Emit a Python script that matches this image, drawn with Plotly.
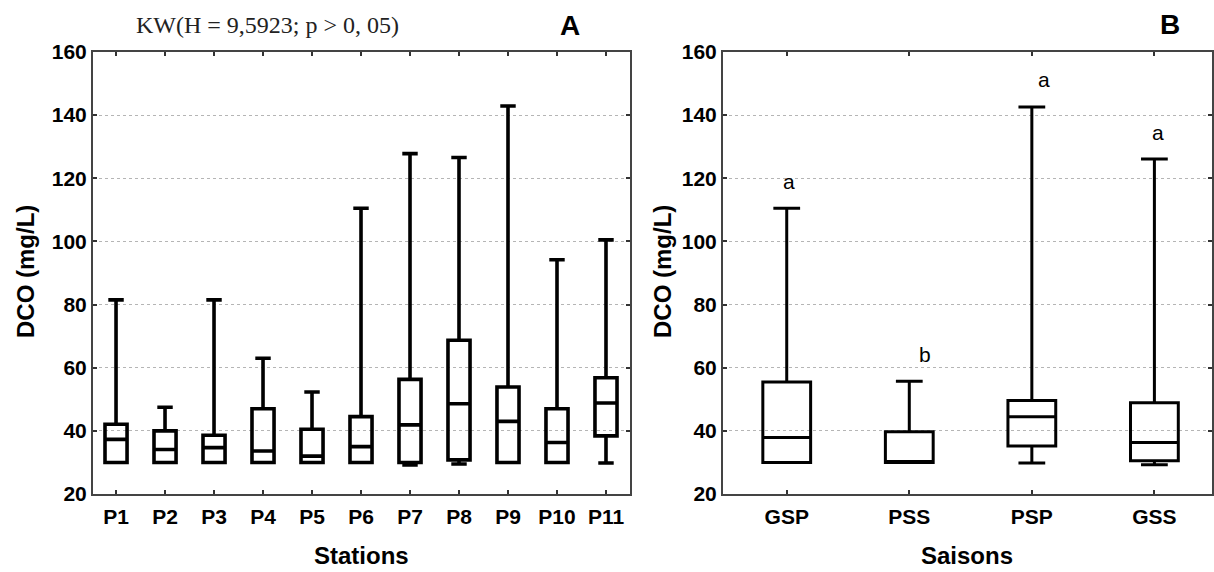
import plotly.graph_objects as go

# ---------------- data ----------------
stations = ["P1", "P2", "P3", "P4", "P5", "P6", "P7", "P8", "P9", "P10", "P11"]
st_lower = [30, 30, 30, 30, 30, 30, 29.2, 29.5, 30, 30, 29.8]
st_q1 = [30, 30, 30, 30, 30, 30, 30, 30.8, 30, 30, 38.4]
st_median = [37.3, 34.1, 34.7, 33.6, 32.0, 35.0, 41.9, 48.6, 43.0, 36.3, 48.8]
st_q3 = [42.1, 40.0, 38.6, 47.0, 40.5, 44.5, 56.3, 68.7, 53.9, 47.0, 56.8]
st_upper = [81.5, 47.5, 81.5, 63.0, 52.3, 110.5, 127.8, 126.6, 142.9, 94.2, 100.5]

seasons = ["GSP", "PSS", "PSP", "GSS"]
se_lower = [30, 30, 29.8, 29.3]
se_q1 = [30, 30, 35.2, 30.5]
se_median = [37.9, 30, 44.5, 36.3]
se_q3 = [55.5, 39.7, 49.6, 48.9]
se_upper = [110.5, 55.7, 142.6, 126.1]
se_letters = ["a", "b", "a", "a"]

y_ticks = [20, 40, 60, 80, 100, 120, 140, 160]

# ---------------- layout helpers ----------------
W, H = 1214, 572


def fx(p):
    return p / W


def fy(p):
    return 1 - p / H


SANS = "Liberation Sans, Arial, sans-serif"
SERIF = "Liberation Serif, Times New Roman, serif"

fig = go.Figure()

fig.add_trace(go.Box(
    x=stations, q1=st_q1, median=st_median, q3=st_q3,
    lowerfence=st_lower, upperfence=st_upper,
    xaxis="x", yaxis="y", width=0.45, whiskerwidth=0.7,
    line=dict(color="black", width=3.6), fillcolor="rgba(0,0,0,0)",
    boxpoints=False, showlegend=False,
))
fig.add_trace(go.Box(
    x=seasons, q1=se_q1, median=se_median, q3=se_q3,
    lowerfence=se_lower, upperfence=se_upper,
    xaxis="x2", yaxis="y2", width=0.39, whiskerwidth=0.56,
    line=dict(color="black", width=3), fillcolor="rgba(0,0,0,0)",
    boxpoints=False, showlegend=False,
))

tickfont = dict(family=SANS, size=21, color="black", weight="bold")
xcommon = dict(
    type="category", showline=True, linecolor="#444", linewidth=2, mirror="ticks",
    ticks="inside", ticklen=4, tickwidth=1.5, tickcolor="#333", showgrid=False,
    tickfont=tickfont, zeroline=False, fixedrange=True, automargin=False,
    ticklabelstandoff=3,
)
ycommon = dict(
    range=[20, 160], tickvals=y_ticks, showline=True, linecolor="#444", linewidth=2,
    mirror="ticks", ticks="inside", ticklen=4, tickwidth=1.5, tickcolor="#333",
    showgrid=True, gridcolor="#b5b5b5", griddash="dot", gridwidth=1,
    tickfont=tickfont, zeroline=False, fixedrange=True, automargin=False,
)

ydom = [fy(494), fy(52)]
fig.update_layout(
    template="none",
    width=W, height=H, autosize=False,
    margin=dict(l=0, r=0, t=0, b=0, pad=0, autoexpand=False),
    paper_bgcolor="white", plot_bgcolor="white",
    showlegend=False,
    xaxis=dict(domain=[fx(93), fx(630)], anchor="y", range=[-0.47, 10.49], **xcommon),
    yaxis=dict(domain=ydom, anchor="x", **ycommon),
    xaxis2=dict(domain=[fx(723), fx(1212)], anchor="y2", range=[-0.52, 3.47], **xcommon),
    yaxis2=dict(domain=ydom, anchor="x2", **ycommon),
)


def paper_text(text, x, y, font, angle=0):
    return dict(text=text, x=fx(x), y=fy(y), xref="paper", yref="paper",
                xanchor="center", yanchor="middle", showarrow=False,
                textangle=angle, font=font)


ann = []
ann.append(paper_text("KW(H = 9,5923; p &gt; 0, 05)", 267, 25,
                      dict(family=SERIF, size=24, color="#222")))
ann.append(paper_text("A", 570, 25, dict(family=SANS, size=28, color="black", weight="bold")))
ann.append(paper_text("B", 1170, 24, dict(family=SANS, size=28, color="black", weight="bold")))
for xp in (25, 662):
    ann.append(paper_text("DCO (mg/L)", xp, 272,
                          dict(family=SANS, size=24, color="black", weight="bold"), angle=-90))
ann.append(paper_text("Stations", 361, 555, dict(family=SANS, size=24, color="black", weight="bold")))
ann.append(paper_text("Saisons", 967, 555, dict(family=SANS, size=24, color="black", weight="bold")))
letter_dx = [2, 16, 12, 4]
for s, u, t, dx in zip(seasons, se_upper, se_letters, letter_dx):
    ann.append(dict(text=t, x=s, y=u, xref="x2", yref="y2", showarrow=False,
                    xanchor="center", yanchor="middle", yshift=27, xshift=dx,
                    font=dict(family=SANS, size=21, color="black")))
fig.update_layout(annotations=ann)

fig.write_html("out.html")
